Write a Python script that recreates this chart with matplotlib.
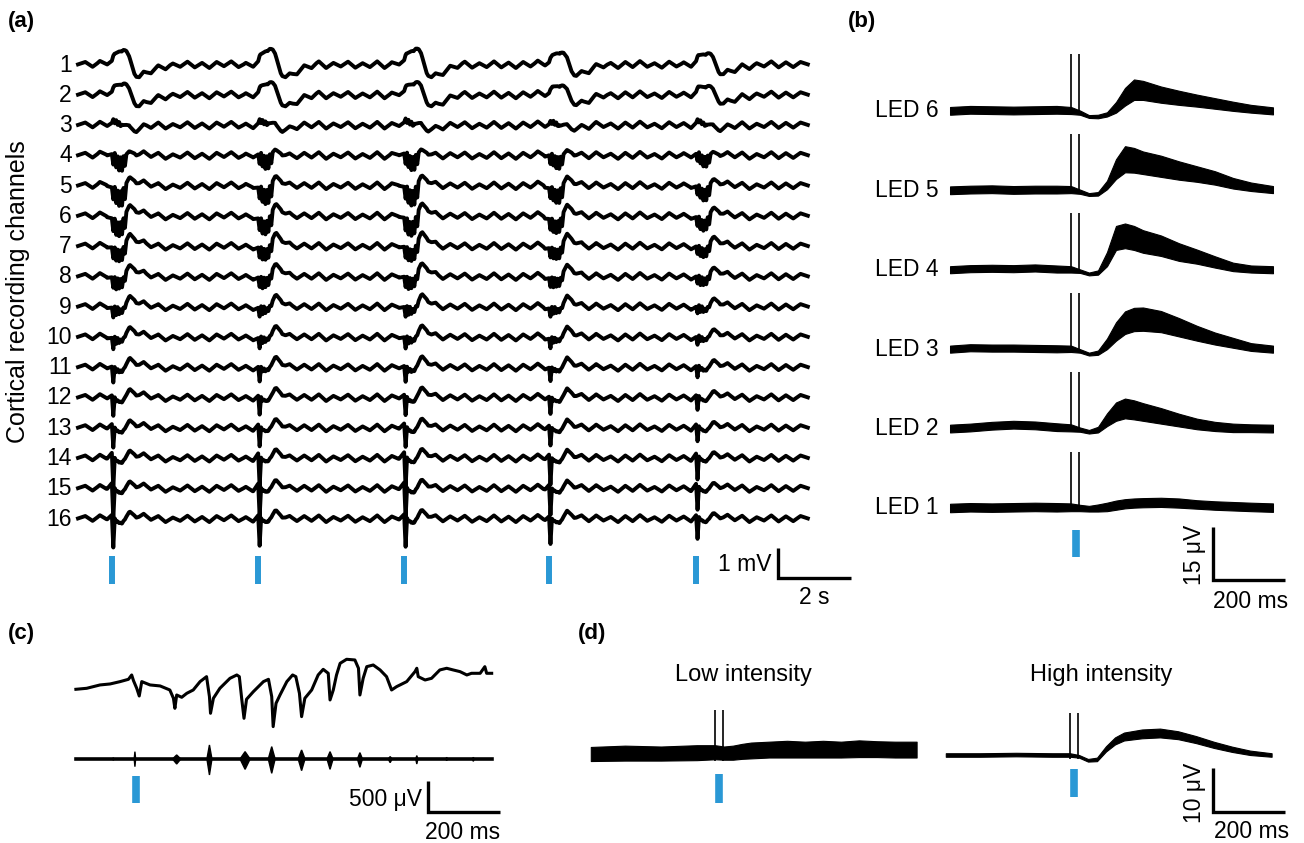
import numpy as np
import matplotlib
matplotlib.use("Agg")
import matplotlib.pyplot as plt

plt.rcParams['font.family'] = ['Liberation Sans', 'DejaVu Sans']

BLUE = '#2a98d5'

# ---------------- (a) 16 cortical channels (mV vs s) ----------------
stim_a = [0.93, 4.95, 8.96, 12.94, 16.98]
stim_gain_a = [1.0, 0.95, 1.0, 0.85, 0.75]
len_a = 20.05
# shared background rhythm, one value every 0.2 s
bg_a = [0.02, 0.10, -0.06, 0.12, -0.04, 0.08, -0.10, 0.06, -0.08, 0.12,
        -0.05, 0.10, -0.10, 0.05, -0.06, 0.11, -0.08, 0.07, -0.10, 0.10,
        -0.04, 0.12, -0.07, 0.06, -0.11, 0.09, -0.05, 0.13, -0.08, 0.05,
        -0.09, 0.10, -0.06, 0.12, -0.10, 0.07, -0.05, 0.11, -0.09, 0.06,
        -0.07, 0.12, -0.10, 0.08, -0.04, 0.10, -0.08, 0.13, -0.06, 0.07,
        -0.10, 0.09, -0.05, 0.11, -0.09, 0.06, -0.07, 0.12, -0.08, 0.08,
        -0.10, 0.10, -0.05, 0.13, -0.07, 0.06, -0.10, 0.11, -0.06, 0.08,
        -0.09, 0.12, -0.05, 0.07, -0.10, 0.10, -0.07, 0.13, -0.06, 0.06,
        -0.09, 0.11, -0.05, 0.08, -0.10, 0.12, -0.07, 0.07, -0.08, 0.10,
        -0.06, 0.11, -0.10, 0.06, -0.05, 0.12, -0.08, 0.09, -0.07, 0.10,
        0.02]
# evoked response of each channel, sampled at these offsets from the light pulse
resp_t_a = [-0.4, -0.15, 0.0, 0.04, 0.08, 0.12, 0.16, 0.20, 0.24, 0.28,
            0.32, 0.36, 0.40, 0.5, 0.62, 0.75, 0.95, 1.25, 1.6]
resp_a = [
    [0, 0.05, 0.10, 0.25, 0.30, 0.36, 0.42, 0.48, 0.52, 0.55, 0.56, 0.52, 0.46, 0.15, -0.25, -0.40, -0.30, -0.12, 0],
    [0, 0.04, 0.08, 0.20, 0.25, 0.30, 0.34, 0.38, 0.42, 0.44, 0.45, 0.42, 0.36, 0.10, -0.22, -0.36, -0.28, -0.10, 0],
    [0, 0.02, 0.05, 0.15, 0.00, 0.14, 0.02, 0.15, 0.05, 0.12, 0.08, 0.05, 0.02, -0.08, -0.15, -0.12, -0.05, 0, 0],
    [0, 0.06, 0.02, -0.35, 0.02, -0.42, -0.02, -0.45, 0.02, -0.40, 0.05, -0.30, 0.05, 0.10, 0.12, 0.05, 0.02, 0, 0],
    [0, 0.06, -0.08, -0.50, -0.10, -0.60, -0.15, -0.62, -0.10, -0.55, 0.00, -0.40, 0.10, 0.25, 0.22, 0.10, 0.05, 0, 0],
    [0, 0.03, -0.10, -0.55, -0.15, -0.65, -0.20, -0.62, -0.12, -0.50, 0.00, -0.35, 0.15, 0.33, 0.28, 0.12, 0.05, 0, 0],
    [0, 0.02, -0.06, -0.45, -0.10, -0.50, -0.10, -0.45, -0.05, -0.35, 0.05, -0.20, 0.20, 0.38, 0.30, 0.15, 0.05, 0, 0],
    [0, 0.02, -0.05, -0.42, -0.08, -0.45, -0.05, -0.35, 0.00, -0.25, 0.05, -0.10, 0.20, 0.35, 0.30, 0.15, 0.05, 0, 0],
    [0, 0.02, -0.05, -0.40, -0.05, -0.30, 0.00, -0.20, 0.00, -0.10, 0.05, 0.00, 0.15, 0.33, 0.28, 0.12, 0.05, 0, 0],
    [0, 0.02, -0.05, -0.45, -0.05, -0.25, -0.02, -0.15, 0.00, -0.05, 0.05, 0.05, 0.15, 0.30, 0.25, 0.10, 0.05, 0, 0],
    [0, 0.02, 0.00, -0.55, -0.05, -0.18, -0.05, -0.12, -0.02, -0.05, 0.02, 0.05, 0.12, 0.28, 0.22, 0.10, 0.05, 0, 0],
    [0, 0.02, 0.05, -0.65, -0.05, -0.15, -0.08, -0.10, -0.05, -0.05, 0.00, 0.05, 0.10, 0.25, 0.20, 0.10, 0.05, 0, 0],
    [0, 0.02, 0.10, -0.70, -0.05, -0.12, -0.08, -0.10, -0.05, -0.05, 0.00, 0.02, 0.08, 0.22, 0.18, 0.08, 0.04, 0, 0],
    [0, 0.02, 0.15, -1.05, -0.05, -0.12, -0.08, -0.10, -0.05, -0.05, 0.00, 0.02, 0.08, 0.22, 0.18, 0.08, 0.04, 0, 0],
    [0, 0.02, 0.15, -1.05, -0.05, -0.12, -0.08, -0.10, -0.05, -0.05, 0.00, 0.02, 0.08, 0.20, 0.16, 0.08, 0.04, 0, 0],
    [0, 0.02, 0.10, -1.00, -0.05, -0.12, -0.08, -0.10, -0.05, -0.05, 0.00, 0.02, 0.08, 0.20, 0.16, 0.08, 0.04, 0, 0],
]

# ---------------- (b) LED 1..6 averaged responses (uV vs ms) ----------------
led_names = ['LED 1', 'LED 2', 'LED 3', 'LED 4', 'LED 5', 'LED 6']
led_gap = 22.5
t_b = [-336, -280, -220, -160, -100, -40, 0, 25, 50, 75, 100, 125, 150,
       175, 200, 250, 300, 350, 400, 450, 500, 561]
mid_b = [
    [0, 0.2, 0.1, 0.2, 0.3, 0.2, 0.2, 0.0, -0.2, 0.0, 0.3, 0.8, 1.2, 1.4, 1.5, 1.6, 1.4, 1.0, 0.7, 0.5, 0.3, 0.1],
    [0, 0.3, 0.8, 1.1, 0.9, 0.4, 0.2, -0.3, -0.9, -0.3, 2.5, 4.8, 5.7, 5.3, 4.7, 3.6, 2.4, 1.3, 0.6, 0.2, 0.1, 0],
    [0, 0.4, 0.3, 0.3, 0.2, 0.1, 0.1, -0.5, -1.4, -1.0, 1.5, 5.0, 7.5, 8.4, 8.5, 7.8, 6.2, 4.5, 3.0, 1.8, 0.6, 0],
    [0, 0.3, 0.4, 0.3, 0.5, 0.2, 0.1, -0.4, -1.2, -0.8, 3.0, 9.0, 9.6, 9.0, 8.0, 6.8, 5.0, 3.7, 2.2, 0.8, 0.2, 0],
    [0, 0.2, 0.3, 0.1, 0.2, 0.2, 0.2, -0.4, -1.2, -1.0, 1.5, 6.0, 8.8, 8.5, 7.8, 6.8, 5.6, 4.6, 3.5, 2.0, 1.0, 0.2],
    [0, 0.3, 0.2, 0.1, 0.2, 0.3, 0.1, -0.5, -1.6, -1.6, -1.0, 1.0, 4.0, 6.0, 5.8, 4.6, 3.7, 2.9, 2.1, 1.3, 0.6, 0],
]
hw_b = [
    [1.2, 1.2, 1.2, 1.2, 1.2, 1.2, 1.1, 0.9, 0.8, 1.0, 1.2, 1.3, 1.3, 1.3, 1.3, 1.3, 1.3, 1.2, 1.2, 1.2, 1.2, 1.2],
    [1.1, 1.1, 1.1, 1.1, 1.1, 1.1, 1.0, 0.6, 0.5, 0.8, 1.8, 2.6, 2.8, 2.7, 2.5, 2.2, 1.8, 1.5, 1.3, 1.2, 1.1, 1.1],
    [1.0, 1.0, 1.0, 1.0, 1.0, 1.0, 0.9, 0.5, 0.4, 0.6, 1.5, 2.6, 3.2, 3.3, 3.3, 3.0, 2.6, 2.1, 1.7, 1.4, 1.1, 1.0],
    [1.0, 1.0, 1.0, 1.0, 1.0, 1.0, 0.9, 0.5, 0.4, 0.6, 2.0, 3.4, 3.5, 3.4, 3.2, 2.9, 2.5, 2.0, 1.6, 1.2, 1.0, 1.0],
    [1.1, 1.1, 1.1, 1.1, 1.1, 1.1, 1.0, 0.6, 0.4, 0.5, 1.2, 2.8, 3.7, 3.5, 3.2, 3.0, 2.6, 2.2, 1.9, 1.5, 1.2, 1.0],
    [1.1, 1.1, 1.1, 1.1, 1.1, 1.1, 1.0, 0.6, 0.4, 0.5, 0.6, 1.5, 2.5, 2.9, 2.7, 2.3, 2.0, 1.7, 1.5, 1.3, 1.1, 1.0],
]
art_t = [0, 22]          # two light-artifact spikes (ms)
art_top_b = 16.0
stim_b = 14

# ---------------- (c) LFP + spikes (uV vs ms) ----------------
c_t = [-167, -137, -100, -72, -44, -21, -12, -7, 2, 9, 16, 39, 67, 94, 104, 108,
       113, 127, 141, 159, 178, 196, 204, 207, 215, 233, 261, 280, 287, 294, 300,
       307, 326, 354, 368, 377, 381, 389, 400, 419, 435, 444, 454, 460, 469, 488,
       506, 520, 534, 539, 548, 557, 567, 585, 608, 618, 622, 631, 641, 659, 678,
       696, 710, 724, 752, 775, 780, 784, 803, 821, 844, 863, 881, 900, 919, 932,
       956, 969, 974, 988]
c_v = [-16, 0, 54, 70, 108, 145, 215, 124, 0, -124, 108, 54, 38, -27, -161, -323,
       -108, -145, -81, -27, 108, 188, -134, -403, -161, 0, 161, 215, 188, -188, -484,
       -177, -54, 108, 145, -134, -618, -242, -108, 108, 215, 188, -81, -457, -161, -27,
       215, 306, 242, -188, -27, 215, 403, 468, 457, 323, -108, 161, 349, 376, 296,
       188, -27, 27, 108, 269, 323, 188, 134, 161, 296, 323, 296, 269, 215, 242,
       242, 349, 242, 242]
c_spk_off = -1140
burst_t = [-63, -3, 113, 204, 303, 377, 460, 539, 622, 706, 780, 863, 937]
burst_up = [20, 118, 65, 226, 118, 199, 145, 118, 102, 38, 54, 27, 27]
burst_dn = [20, 124, 81, 258, 167, 231, 188, 167, 134, 59, 81, 27, 38]
burst_w = [4, 4, 23, 14, 28, 19, 19, 17, 14, 11, 6, 5, 5]

# ---------------- (d) low vs high intensity (uV vs ms) ----------------
t_d = [-345, -250, -150, -50, 0, 25, 50, 75, 100, 125, 150, 200, 250, 300,
       350, 400, 450, 500, 560]
low_mid = [0, 0.2, 0.1, 0.3, 0.4, 0.2, 0.3, 0.6, 0.8, 0.9, 1.0, 1.1, 1.0, 1.1,
           1.0, 1.2, 1.1, 1.0, 1.0]
low_hw = [1.6, 1.7, 1.6, 1.7, 1.6, 1.5, 1.6, 1.7, 1.8, 1.8, 1.8, 1.9, 1.8, 1.9,
          1.8, 1.9, 1.8, 1.8, 1.8]
high_mid = [0, 0, 0.1, 0, 0, -0.3, -1.2, -1.0, 1.4, 3.2, 4.2, 4.8, 5.0, 4.5,
            3.5, 2.3, 1.3, 0.5, 0]
high_hw = [0.4, 0.4, 0.4, 0.4, 0.4, 0.3, 0.3, 0.4, 0.6, 0.8, 0.9, 1.0, 1.0, 0.9,
           0.8, 0.7, 0.6, 0.5, 0.4]

W, H = 1304, 843
fig = plt.figure(figsize=(W / 100, H / 100), dpi=100)


def panel(box, ox, sx, oy, sy):
    # box in image pixels, data x = (px - ox) / sx, data y = (oy - py) / sy
    x0, y0, x1, y1 = box
    ax = fig.add_axes([x0 / W, 1 - y1 / H, (x1 - x0) / W, (y1 - y0) / H])
    ax.set_xlim((x0 - ox) / sx, (x1 - ox) / sx)
    ax.set_ylim((oy - y1) / sy, (oy - y0) / sy)
    ax.axis('off')
    return ax


def scalebar(ax, x, y, dx, dy, lw=2.4):
    ax.plot([x, x, x + dx], [y + dy, y, y], color='k', lw=lw,
            solid_joinstyle='miter', solid_capstyle='butt', clip_on=False)


FS = 16.5

# ---- (a)
ax = panel((40, 30, 880, 610), 78, 36.4, 65, 30.27)
t_bg = np.linspace(0, len_a, len(bg_a))
t_ev = np.concatenate([s + np.array(resp_t_a) for s in stim_a])
t_all = np.union1d(t_bg, t_ev)
t_all = t_all[(t_all >= 0) & (t_all <= len_a)]
for k, shape in enumerate(resp_a):
    y = np.interp(t_all, t_bg, bg_a)
    for s, g in zip(stim_a, stim_gain_a):
        y = y + g * np.interp(t_all - s, resp_t_a, shape, left=0, right=0)
    ax.plot(t_all, y - k, color='k', lw=2.8)
    ax.text(-0.17, -k, str(k + 1), ha='right', va='center', fontsize=FS)
ax.vlines(stim_a, -17.15, -16.22, color=BLUE, lw=4.3)
scalebar(ax, 19.23, -16.95, 2.0, 1.0)
ax.text(19.05, -16.5, '1 mV', ha='right', va='center', fontsize=FS)
ax.text(20.23, -17.2, '2 s', ha='center', va='top', fontsize=FS)

# ---- (b)
ax = panel((850, 30, 1304, 620), 1071, 0.36, 508, 3.53)
for i, name in enumerate(led_names):
    off = i * led_gap
    m = np.array(mid_b[i]) + off
    h = np.array(hw_b[i])
    ax.fill_between(t_b, m - h, m + h, color='k', lw=0.8)
    ax.vlines(art_t, off - 0.8, off + art_top_b, color='k', lw=1.2)
    ax.text(-367, off, name, ha='right', va='center', fontsize=FS)
ax.vlines([stim_b], -13.9, -6.2, color=BLUE, lw=5.5)
scalebar(ax, 394, -20.4, 200, 15)
ax.text(344, -13.4, '15 μV', rotation=90, ha='center', va='center', fontsize=FS)
ax.text(500, -23.3, '200 ms', ha='center', va='top', fontsize=FS)

# ---- (c)
ax = panel((40, 630, 560, 843), 136, 0.36, 688.3, 0.062)
ax.plot(c_t, c_v, color='k', lw=2.2)
ax.plot([c_t[0], c_t[-1]], [c_spk_off, c_spk_off], color='k', lw=2.6)
for bt, up, dn, w in zip(burst_t, burst_up, burst_dn, burst_w):
    ax.fill([bt - w / 2, bt, bt + w / 2, bt],
            [c_spk_off, c_spk_off + up, c_spk_off, c_spk_off - dn],
            color='k', lw=1.0)
ax.vlines([0], -1850, -1415, color=BLUE, lw=5.5)
scalebar(ax, 811, -1995, 200, 500)
ax.text(795, -1790, '500 μV', ha='right', va='center', fontsize=FS)
ax.text(908, -2140, '200 ms', ha='center', va='top', fontsize=FS)

# ---- (d)
ax = panel((580, 630, 930, 843), 715, 0.36, 754, 4.4)
m, h = np.array(low_mid), np.array(low_hw)
ax.fill_between(t_d, m - h, m + h, color='k', lw=0.8)
ax.vlines(art_t, -1.5, 10, color='k', lw=1.2)
ax.vlines([11], -11.1, -4.5, color=BLUE, lw=5.5)
ax.text(78, 18, 'Low intensity', ha='center', va='center', fontsize=17)

ax = panel((930, 630, 1304, 843), 1070, 0.36, 755, 4.4)
m, h = np.array(high_mid), np.array(high_hw)
ax.fill_between(t_d, m - h, m + h, color='k', lw=0.8)
ax.vlines(art_t, -0.8, 9.5, color='k', lw=1.2)
ax.vlines([11], -9.5, -3.2, color=BLUE, lw=5.5)
scalebar(ax, 397, -13, 200, 10)
ax.text(86, 18.2, 'High intensity', ha='center', va='center', fontsize=17)
ax.text(346, -8.6, '10 μV', rotation=90, ha='center', va='center', fontsize=FS)
ax.text(504, -14.8, '200 ms', ha='center', va='top', fontsize=FS)

# ---- panel letters and y label
for lab, x, y in [('(a)', 8, 21), ('(b)', 848, 21), ('(c)', 8, 633), ('(d)', 578, 633)]:
    fig.text(x / W, 1 - y / H, lab, ha='left', va='center', fontsize=16,
             fontweight='bold')
fig.text(18 / W, 1 - 292 / H, 'Cortical recording channels', rotation=90,
         ha='center', va='center', fontsize=18)

fig.savefig('out.png', dpi=100)
